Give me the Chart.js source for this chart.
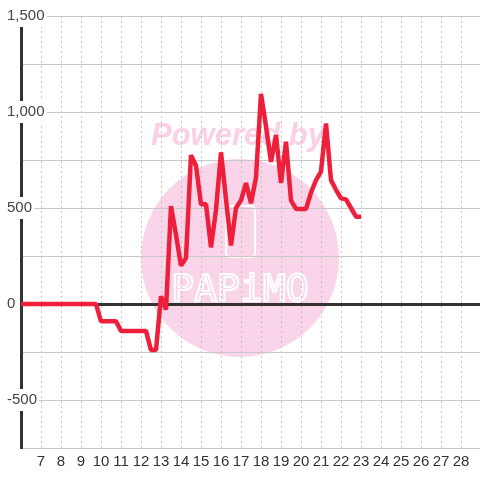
<!DOCTYPE html>
<html lang="en">
<head>
    <meta charset="UTF-8">
    <title>Balance chart</title>
    <script src="https://cdn.jsdelivr.net/npm/chart.js@4.4.1/dist/chart.umd.min.js"></script>
    <style>
        html, body { margin: 0; padding: 0; background: #fff; }
        .chart-box { width: 480px; height: 480px; }
    </style>
</head>
<body>
    <div class="chart-box">
        <canvas id="myChart" width="480" height="480"></canvas>
    </div>

<script>
    // day of month (fractional) and balance
    var days = [6, 9.75, 10, 10.75, 11, 12.25, 12.5, 12.75, 13, 13.25, 13.5, 13.75, 14, 14.25,
        14.5, 14.75, 15, 15.25, 15.5, 15.75, 16, 16.25, 16.5, 16.75, 17, 17.25, 17.5, 17.75,
        18, 18.25, 18.5, 18.75, 19, 19.25, 19.5, 19.75, 20, 20.25, 20.5, 20.75, 21, 21.25,
        21.5, 21.75, 22, 22.25, 22.5, 22.75, 23];
    var balance = [0, 0, -90, -90, -140, -140, -240, -240, 40, -30, 510, 360, 200, 240,
        775, 720, 520, 520, 295, 490, 790, 545, 305, 500, 540, 630, 525, 660,
        1095, 925, 740, 880, 630, 845, 540, 495, 495, 495, 580, 645, 690, 940,
        645, 595, 550, 545, 500, 455, 455];

    var dayLabels = [7, 8, 9, 10, 11, 12, 13, 14, 15, 16, 17, 18, 19, 20, 21, 22, 23, 24, 25, 26, 27, 28];
    var valueLabels = [-500, 0, 500, 1000, 1500];

    var points = days.map(function (d, i) { return { x: d, y: balance[i] }; });

    // pink watermark behind the grid
    var watermark = {
        id: 'watermark',
        beforeDraw: function (chart) {
            var ctx = chart.ctx;
            ctx.save();
            ctx.fillStyle = '#ffffff';
            ctx.fillRect(0, 0, chart.width, chart.height);

            ctx.fillStyle = '#fad5ea';
            ctx.beginPath();
            ctx.arc(240, 258, 99, 0, Math.PI * 2);
            ctx.fill();

            ctx.fillStyle = '#f9d0e6';
            ctx.font = 'italic bold 31px "Liberation Sans", Arial, sans-serif';
            ctx.textAlign = 'center';
            ctx.textBaseline = 'alphabetic';
            ctx.fillText('Powered by', 238, 145);

            ctx.strokeStyle = '#ffffff';
            ctx.lineWidth = 2;
            ctx.beginPath();
            ctx.roundRect(226, 206, 29, 51, 4);
            ctx.stroke();

            ctx.lineWidth = 2;
            ctx.font = '38px "DejaVu Sans Mono", monospace';
            ctx.textBaseline = 'middle';
            ctx.strokeText('PAPiMO', 240, 291);
            ctx.restore();
        }
    };

    var ctx = document.getElementById('myChart').getContext('2d');
    var myChart = new Chart(ctx, {
        type: 'line',
        data: {
            datasets: [{
                label: 'balance',
                data: points,
                borderColor: '#ee1f3a',
                borderWidth: 4.5,
                borderJoinStyle: 'bevel',
                pointRadius: 0,
                tension: 0,
                fill: false
            }]
        },
        options: {
            responsive: false,
            animation: false,
            layout: { padding: { top: 16, left: 0, right: 0, bottom: 0 } },
            plugins: {
                legend: { display: false },
                tooltip: { enabled: false }
            },
            scales: {
                x: {
                    type: 'linear',
                    min: 6,
                    max: 28.95,
                    afterFit: function (scale) { scale.height = 32; },
                    grid: { color: '#c4c4c4', lineWidth: 1, drawTicks: false },
                    border: { display: false, dash: [2, 3] },
                    ticks: {
                        stepSize: 1,
                        includeBounds: false,
                        autoSkip: false,
                        maxRotation: 0,
                        padding: 5,
                        color: '#333',
                        font: { family: '"Liberation Sans", Arial, sans-serif', size: 15 },
                        callback: function (v) {
                            return dayLabels.indexOf(v) >= 0 ? String(v) : '';
                        }
                    }
                },
                y: {
                    min: -750,
                    max: 1500,
                    afterFit: function (scale) { scale.width = 21; },
                    grid: {
                        drawTicks: false,
                        color: function (c) { return c.tick && c.tick.value === 0 ? '#333' : '#c8c8c8'; },
                        lineWidth: function (c) { return c.tick && c.tick.value === 0 ? 3 : 1; }
                    },
                    border: { display: true, color: '#333', width: 3 },
                    ticks: {
                        stepSize: 250,
                        mirror: true,
                        padding: -14,
                        color: '#444',
                        font: { family: '"Liberation Sans", Arial, sans-serif', size: 15 },
                        showLabelBackdrop: true,
                        backdropPadding: 2,
                        backdropColor: function (c) {
                            return c.tick && valueLabels.indexOf(c.tick.value) >= 0 ? '#ffffff' : 'rgba(0,0,0,0)';
                        },
                        callback: function (v) {
                            return valueLabels.indexOf(v) >= 0 ? v.toLocaleString('en-US') : '';
                        }
                    }
                }
            }
        },
        plugins: [watermark]
    });
</script>
</body>
</html>
